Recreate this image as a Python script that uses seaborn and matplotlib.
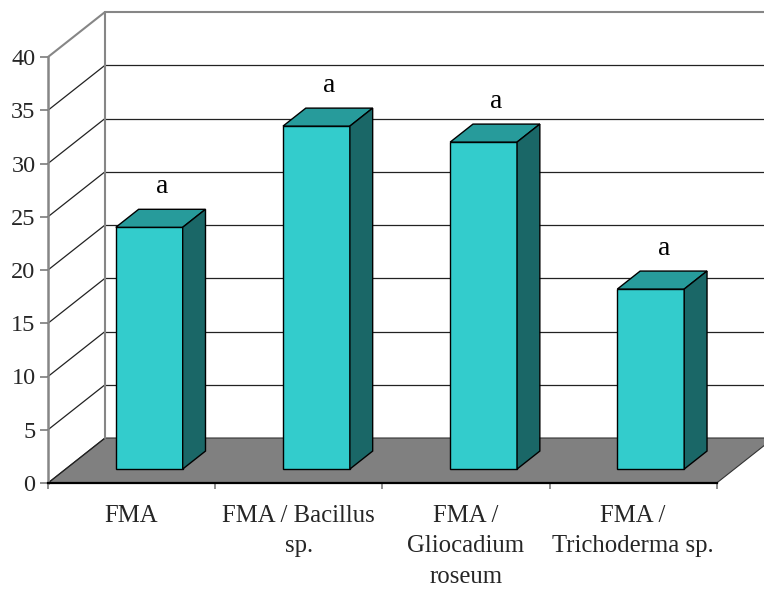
import numpy as np
import pandas as pd
import matplotlib
matplotlib.use("Agg")
import matplotlib.pyplot as plt
import matplotlib.transforms as mtransforms
from matplotlib.patches import Polygon
import seaborn as sns

# Data
categories = ["FMA", "FMA / Bacillus\nsp.", "FMA /\nGliocadium\nroseum", "FMA /\nTrichoderma sp."]
values = [22.7, 32.2, 30.7, 16.9]
letters = ["a", "a", "a", "a"]
y_ticks = [0, 5, 10, 15, 20, 25, 30, 35, 40]

# Colours
FRONT = "#33CCCC"
TOP = "#279B9B"
SIDE = "#1A6767"
FLOOR = "#808080"
WALL = "#868686"

# Oblique depth of the chart box (data units) and bar placement in depth
DEPTH_X, DEPTH_Y = 0.341, 4.225
BAR_FRONT = 0.31   # fraction of depth where bar front face sits
BAR_DEPTH = 0.40   # fraction of depth occupied by a bar

sns.set_theme(style="white")
plt.rcParams["font.family"] = ["Liberation Serif", "DejaVu Serif"]

fig = plt.figure(figsize=(7.64, 5.90), dpi=100)
ax = fig.add_axes([48 / 764, 107 / 590, (716.7 - 48) / 764, (483 - 57) / 590])
ax.set_facecolor("none")

df = pd.DataFrame({"cat": categories, "val": values})
sns.barplot(data=df, x="cat", y="val", color=FRONT, saturation=1, width=0.4,
            edgecolor="black", linewidth=1.0, ax=ax, zorder=5)

ax.set_xlim(-0.5, len(categories) - 0.5)
ax.set_ylim(0, 40)
x0, x1 = ax.get_xlim()

# Floor
floor = Polygon([(x0, 0), (x1, 0), (x1 + DEPTH_X, DEPTH_Y), (x0 + DEPTH_X, DEPTH_Y)],
                closed=True, facecolor=FLOOR, edgecolor="#333333", linewidth=0.8,
                clip_on=False, zorder=1)
ax.add_patch(floor)

# Back wall gridlines and left wall diagonals
for v in y_ticks:
    top = v == y_ticks[-1]
    col = WALL if top else "#222222"
    lw = 1.5 if top else 0.9
    if v > 0:
        ax.plot([x0 + DEPTH_X, x1 + DEPTH_X + 0.3], [v + DEPTH_Y, v + DEPTH_Y],
                color=col, lw=lw, clip_on=False, zorder=2)
    ax.plot([x0, x0 + DEPTH_X], [v, v + DEPTH_Y], color=col, lw=lw,
            clip_on=False, zorder=2)
# Back wall left edge
ax.plot([x0 + DEPTH_X, x0 + DEPTH_X], [DEPTH_Y, y_ticks[-1] + DEPTH_Y],
        color=WALL, lw=1.5, clip_on=False, zorder=2)

# Shift bars into the box and add top and side faces
fdx, fdy = BAR_FRONT * DEPTH_X, BAR_FRONT * DEPTH_Y
bdx, bdy = BAR_DEPTH * DEPTH_X, BAR_DEPTH * DEPTH_Y
shift = mtransforms.Affine2D().translate(fdx, fdy) + ax.transData
for patch, letter in zip(ax.patches[:len(values)], letters):
    patch.set_transform(shift)
    patch.set_clip_on(False)
    x, w, h = patch.get_x(), patch.get_width(), patch.get_height()
    top_face = Polygon([(x, h), (x + w, h), (x + w + bdx, h + bdy), (x + bdx, h + bdy)],
                       closed=True, facecolor=TOP, edgecolor="black", linewidth=1.0,
                       transform=shift, clip_on=False, zorder=5)
    side_face = Polygon([(x + w, 0), (x + w + bdx, bdy), (x + w + bdx, h + bdy), (x + w, h)],
                        closed=True, facecolor=SIDE, edgecolor="black", linewidth=1.0,
                        transform=shift, clip_on=False, zorder=5)
    ax.add_patch(top_face)
    ax.add_patch(side_face)
    ax.text(x + w / 2 + bdx / 2 + 0.01, h + bdy + 1.5, letter, transform=shift,
            ha="center", va="baseline", fontsize=20, color="black", zorder=6)

# Axes styling
for s in ["top", "right"]:
    ax.spines[s].set_visible(False)
ax.spines["left"].set_color(WALL)
ax.spines["left"].set_linewidth(1.8)
ax.spines["bottom"].set_color("black")
ax.spines["bottom"].set_linewidth(1.6)
ax.spines["left"].set_zorder(3)
ax.spines["bottom"].set_zorder(3)

ax.set_yticks(y_ticks)
ax.set_yticklabels([str(t) for t in y_ticks])
ax.tick_params(axis="y", which="major", direction="out", length=5.5, width=1.3,
               color=WALL, pad=3.5, labelsize=17.5, left=True)
ax.set_xticks(range(len(categories)))
ax.set_xticklabels(categories, linespacing=1.48)
ax.set_xticks(np.arange(x0, x1 + 0.01, 1.0), minor=True)
ax.tick_params(axis="x", which="major", length=0, pad=16, labelsize=17.8)
ax.tick_params(axis="x", which="minor", direction="out", length=4, width=1.3,
               color=WALL, bottom=True)
ax.set_xlabel("")
ax.set_ylabel("")
ax.grid(False)

fig.savefig("out.png", dpi=100)
